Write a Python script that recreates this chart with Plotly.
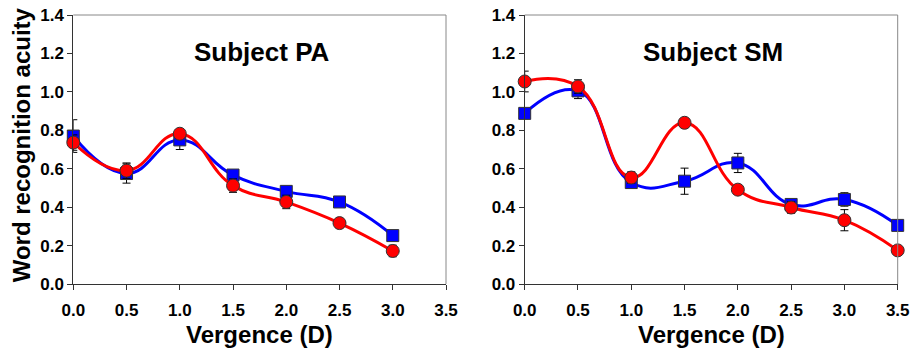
import plotly.graph_objects as go

# ---- data ----
vergence_pa = [0.0, 0.5, 1.0, 1.5, 2.0, 2.5, 3.0]
pa_blue = [0.77, 0.575, 0.75, 0.567, 0.482, 0.427, 0.252]
pa_blue_err = [0.085, 0.05, 0.05, 0.02, 0.015, 0.01, 0.01]
pa_red = [0.736, 0.59, 0.782, 0.512, 0.427, 0.317, 0.172]
pa_red_err = [0.04, 0.04, 0.015, 0.035, 0.035, 0.01, 0.03]

vergence_sm = [0.0, 0.5, 1.0, 1.5, 2.0, 2.5, 3.0, 3.5]
sm_blue = [0.888, 1.005, 0.528, 0.535, 0.63, 0.414, 0.44, 0.305]
sm_blue_err = [0.02, 0.04, 0.02, 0.068, 0.05, 0.02, 0.035, 0.02]
sm_red = [1.054, 1.028, 0.554, 0.839, 0.491, 0.398, 0.332, 0.175]
sm_red_err = [0.054, 0.035, 0.03, 0.02, 0.025, 0.03, 0.055, 0.01]

x_ticks = [0.0, 0.5, 1.0, 1.5, 2.0, 2.5, 3.0, 3.5]
y_ticks = [0.0, 0.2, 0.4, 0.6, 0.8, 1.0, 1.2, 1.4]
titles = ["Subject PA", "Subject SM"]
x_title = "Vergence (D)"
y_title = "Word recognition acuity"

FONT = "Liberation Sans, Arial, sans-serif"
BLUE = "#0000ff"
RED = "#ff0000"

fig = go.Figure()

def add_series(x, y, err, color, symbol, size, xa, ya):
    fig.add_trace(go.Scatter(
        x=x, y=y, mode="lines+markers",
        line=dict(color=color, width=3, shape="spline", smoothing=1.3),
        marker=dict(color=color, symbol=symbol, size=size,
                    line=dict(color="#333333", width=1)),
        error_y=dict(type="data", array=err, visible=True, color="black",
                     thickness=1, width=4),
        xaxis=xa, yaxis=ya, showlegend=False, cliponaxis=False,
    ))

add_series(vergence_pa, pa_blue, pa_blue_err, BLUE, "square", 12, "x", "y")
add_series(vergence_pa, pa_red, pa_red_err, RED, "circle", 13, "x", "y")
add_series(vergence_sm, sm_blue, sm_blue_err, BLUE, "square", 12, "x2", "y2")
add_series(vergence_sm, sm_red, sm_red_err, RED, "circle", 13, "x2", "y2")

W, H = 913, 349
TOP, BOT = 14.7, 283.7
x0a, x1a = 73.3 / W, 446.0 / W
x0b, x1b = 524.7 / W, 897.7 / W

tickfont = dict(family=FONT, size=17, color="black", weight="bold")
common_x = dict(range=[0, 3.5], tickvals=x_ticks, tickformat=".1f",
                showgrid=False, zeroline=False, showline=True,
                linecolor="#333333", linewidth=1, ticks="outside",
                ticklen=5, tickcolor="#333333", automargin=False,
                ticklabelstandoff=6, tickfont=tickfont)
common_y = dict(range=[0, 1.4], tickvals=y_ticks, tickformat=".1f",
                showgrid=False, zeroline=False, showline=True,
                linecolor="#333333", linewidth=1, ticks="outside",
                ticklen=5, tickcolor="#333333", automargin=False,
                tickfont=tickfont)

fig.update_layout(
    width=W, height=H,
    margin=dict(l=0, r=0, t=TOP, b=H - BOT, pad=0),
    paper_bgcolor="white", plot_bgcolor="white",
    xaxis=dict(domain=[x0a, x1a], anchor="y", **common_x),
    yaxis=dict(domain=[0, 1], anchor="x", **common_y),
    xaxis2=dict(domain=[x0b, x1b], anchor="y2", **common_x),
    yaxis2=dict(domain=[0, 1], anchor="x2", **common_y),
)

# top/right frame lines (lighter gray)
for xr, yr in [("x domain", "y domain"), ("x2 domain", "y2 domain")]:
    fig.add_shape(type="line", xref=xr, yref=yr, x0=0, x1=1, y0=1, y1=1,
                  line=dict(color="#888888", width=1))
    fig.add_shape(type="line", xref=xr, yref=yr, x0=1, x1=1, y0=0, y1=1,
                  line=dict(color="#888888", width=1))

for t, (xr, yr) in zip(titles, [("x", "y"), ("x2", "y2")]):
    fig.add_annotation(text=t, x=1.77, y=1.21, xref=xr, yref=yr, showarrow=False,
                       font=dict(family=FONT, size=26, color="black", weight="bold"))

title_font = dict(family=FONT, size=24, color="black", weight="bold")
plot_h = BOT - TOP
# x-axis titles (centred under each panel)
for xr in ["x domain", "x2 domain"]:
    fig.add_annotation(text=x_title, x=0.5, xref=xr,
                       y=(BOT - 334) / plot_h, yref="y domain",
                       showarrow=False, font=title_font,
                       xanchor="center", yanchor="middle")
# y-axis title
fig.add_annotation(text=y_title, textangle=-90, x=21 / W, xref="paper",
                   y=(BOT - 145) / plot_h, yref="y domain",
                   showarrow=False, font=title_font,
                   xanchor="center", yanchor="middle")

fig.write_html("out.html", config={"displayModeBar": False},
               post_script="document.body.style.margin='0';document.body.style.overflow='hidden';")
